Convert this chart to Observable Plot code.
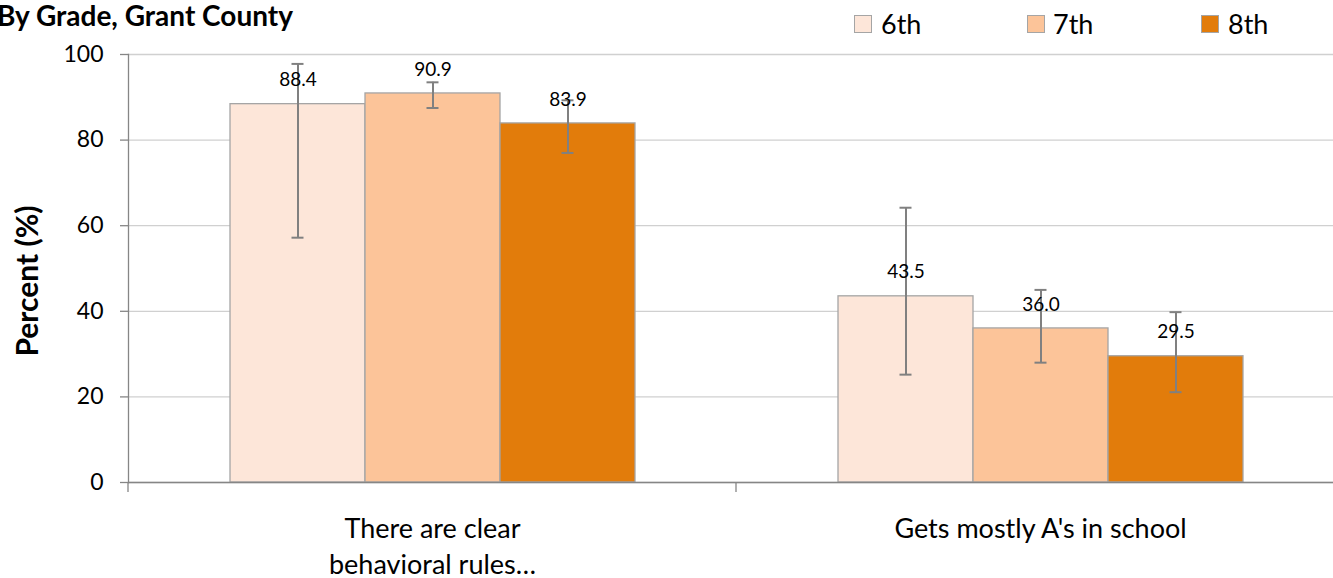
<!DOCTYPE html>
<html>
<head>
<meta charset="utf-8">
<script src="https://cdn.jsdelivr.net/npm/d3@7"></script>
<script src="https://cdn.jsdelivr.net/npm/@observablehq/plot@0.6"></script>
<style>
  html, body { margin: 0; padding: 0; background: #fff; overflow: hidden; width: 1333px; height: 578px; }
  #wrap { position: relative; width: 1333px; height: 578px; overflow: hidden; font-family: Lato, sans-serif; color: #000; }
  #chart { position: absolute; left: 0; top: 0; width: 1344px; }
  #chart svg { max-width: none !important; }
  #title { position: absolute; right: 1040px; top: 1px; font-weight: bold; font-size: 28px; line-height: 1; white-space: nowrap; }
  #ylabel { position: absolute; left: 26px; top: 281px; transform: translate(-50%, -50%) rotate(-90deg); font-weight: bold; font-size: 30px; line-height: 1; white-space: nowrap; }
  .lg { position: absolute; top: 10px; font-size: 27px; line-height: 1; white-space: nowrap; }
  .sw { position: absolute; top: 15px; width: 18px; height: 18px; box-sizing: border-box; border: 1.5px solid #a5a5a5; }
</style>
</head>
<body>
<div id="wrap">
  <div id="chart"></div>
  <div id="title">By Grade, Grant County</div>
  <div id="ylabel">Percent (%)</div>
  <div id="legend"></div>
</div>
<script>
// ---- data ----
const categories = ["There are clear behavioral rules…", "Gets mostly A's in school"];
const categoryLabels = ["There are clear\nbehavioral rules…", "Gets mostly A's in school"];
const grades = ["6th", "7th", "8th"];
const gradeColors = ["#fde6d9", "#fcc499", "#e27c0b"];
const values6 = [88.4, 43.5];
const values7 = [90.9, 36.0];
const values8 = [83.9, 29.5];
const lower6 = [57.2, 25.2];
const upper6 = [97.8, 64.2];
const lower7 = [87.5, 28.0];
const upper7 = [93.5, 45.0];
const lower8 = [77.0, 21.1];
const upper8 = [89.3, 39.8];
const yTicks = [0, 20, 40, 60, 80, 100];

const valuesByGrade = [values6, values7, values8];
const lowerByGrade = [lower6, lower7, lower8];
const upperByGrade = [upper6, upper7, upper8];

const rows = categories.flatMap((c, i) => grades.map((g, j) => ({
  category: c, grade: g,
  value: valuesByGrade[j][i], lo: lowerByGrade[j][i], hi: upperByGrade[j][i]
})));

const axisGray = "#868686";
const errGray = "#808080";

// small tick marks on the category axis at each facet's left edge
function boundaryTicks(index, scales, values, dimensions) {
  const {marginLeft, height, marginBottom} = dimensions;
  const y = height - marginBottom;
  const ln = document.createElementNS("http://www.w3.org/2000/svg", "line");
  ln.setAttribute("x1", marginLeft);
  ln.setAttribute("x2", marginLeft);
  ln.setAttribute("y1", y);
  ln.setAttribute("y2", y + 10);
  ln.setAttribute("stroke", axisGray);
  ln.setAttribute("stroke-width", 1.3);
  return ln;
}

const chart = Plot.plot({
  width: 1344,
  height: 578,
  marginTop: 54,
  marginBottom: 96,
  marginLeft: 128,
  marginRight: 0,
  style: {fontFamily: "Lato, sans-serif", background: "#fff", color: "#000", maxWidth: "none"},
  fx: {domain: categories, padding: 0, label: null},
  x: {domain: grades, paddingInner: 0, paddingOuter: 0.747, axis: null},
  y: {domain: [0, 100], label: null},
  color: {domain: grades, range: gradeColors},
  marks: [
    Plot.gridY(yTicks, {stroke: "#d0d0d0", strokeOpacity: 1, strokeWidth: 1.3}),
    Plot.barY(rows, {fx: "category", x: "grade", y: "value", fill: "grade", stroke: "#a5a5a5", strokeWidth: 1.3}),
    Plot.ruleX(rows, {fx: "category", x: "grade", y1: "lo", y2: "hi", stroke: errGray, strokeWidth: 2}),
    Plot.tickY(rows, {fx: "category", x: "grade", y: "lo", stroke: errGray, strokeWidth: 2, insetLeft: 61.5, insetRight: 61.5}),
    Plot.tickY(rows, {fx: "category", x: "grade", y: "hi", stroke: errGray, strokeWidth: 2, insetLeft: 61.5, insetRight: 61.5}),
    Plot.text(rows, {fx: "category", x: "grade", y: "value", text: d => d.value.toFixed(1), dy: -24, fontSize: 19, fill: "#000"}),
    Plot.ruleY([0], {stroke: axisGray, strokeWidth: 1.3}),
    Plot.frame({anchor: "left", facetAnchor: "left", stroke: axisGray, strokeWidth: 1.3}),
    boundaryTicks,
    Plot.axisY({ticks: yTicks, tickSize: 8, tickPadding: 17, fontSize: 23, stroke: axisGray, strokeWidth: 1.3, label: null}),
    Plot.axisFx({anchor: "bottom", tickSize: 0, tickPadding: 30, fontSize: 27, lineHeight: 1.33,
      tickFormat: d => categoryLabels[categories.indexOf(d)], label: null})
  ]
});
document.getElementById("chart").appendChild(chart);

// ---- legend ----
const legendSwatchX = [854, 1027, 1201];
const legendTextX = [881, 1053, 1228];
const legend = document.getElementById("legend");
grades.forEach((g, i) => {
  const sw = document.createElement("div");
  sw.className = "sw";
  sw.style.left = legendSwatchX[i] + "px";
  sw.style.background = gradeColors[i];
  legend.appendChild(sw);
  const t = document.createElement("div");
  t.className = "lg";
  t.style.left = legendTextX[i] + "px";
  t.textContent = g;
  legend.appendChild(t);
});
</script>
</body>
</html>
